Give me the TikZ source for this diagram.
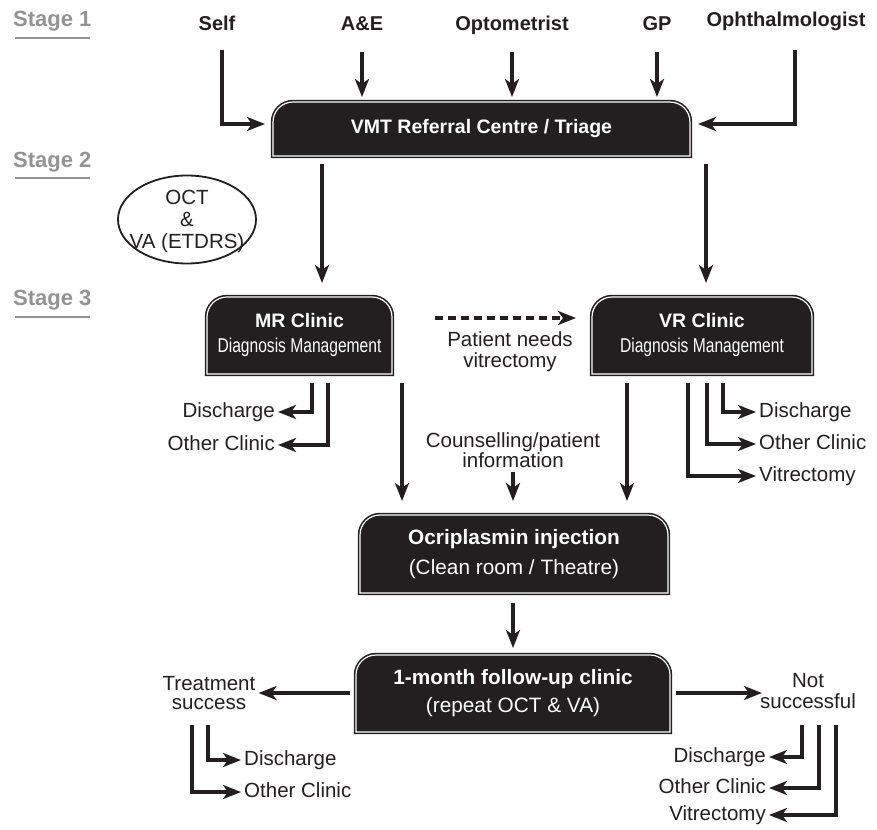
\documentclass[tikz,border=0pt]{standalone}
\usepackage{fontspec}
\setmainfont{Liberation Sans}
\newfontfamily\condfont[FakeStretch=0.78]{Liberation Sans}
\usetikzlibrary{arrows.meta,calc,backgrounds}
\definecolor{ink}{HTML}{231F20}
\definecolor{stagegray}{HTML}{939393}
\newcommand\fsz[2]{\fontsize{#1}{#2}\selectfont}
\newcommand\roundtop[1]{%
  \path[blkshape] (#1.south west) -- ($(#1.north west)+(0,20)$)
    arc[start angle=180,end angle=90,radius=20pt]
    -- ($(#1.north east)+(-20,0)$)
    arc[start angle=90,end angle=0,radius=20pt]
    -- (#1.south east) -- cycle;}
\begin{document}
\begin{tikzpicture}[x=1pt,y=-1pt,
  lbl/.style={font=\fsz{20.5}{21}, inner sep=3pt, text=ink, text height=15pt, text depth=4.5pt},
  lbl2/.style={font=\fsz{20.5}{20.5}, inner sep=3pt, text=ink, align=center},
  src/.style={font=\bfseries\fsz{20}{20}, inner sep=0pt, text height=14pt, text depth=4pt, text=ink},
  stagelbl/.style={font=\bfseries\fsz{22}{22}, text=stagegray, inner sep=0pt, anchor=west},
  stageline/.style={draw=stagegray, line width=1.6pt},
  blk/.style={rectangle, inner sep=0pt, outer sep=0pt, text=white, align=center},
  blkshape/.style={fill=ink, draw=ink, line width=1.6pt, double=white, double distance=1.2pt},
  arr/.style={draw=ink, line width=4pt, -{Stealth[length=18pt,width=14pt,inset=5pt]}, line join=miter},
  dasharr/.style={arr, dash pattern=on 8pt off 5pt},
]
\useasboundingbox (0,0) rectangle (877,829);

% stage labels
\node[stagelbl] (st1) at (13,21) {Stage 1};
\node[stagelbl] (st2) at (13,162) {Stage 2};
\node[stagelbl] (st3) at (13,300) {Stage 3};
\draw[stageline] ($(st1.west)+(2,17)$) -- ($(st1.east)+(-2,17)$);
\draw[stageline] ($(st2.west)+(2,16)$) -- ($(st2.east)+(-2,16)$);
\draw[stageline] ($(st3.west)+(2,17)$) -- ($(st3.east)+(-2,17)$);

% sources
\node[src] (self) at (217,26) {Self};
\node[src] (ae) at (362,26) {A\&E};
\node[src] (opt) at (512,26) {Optometrist};
\node[src] (gp) at (657,26) {GP};
\node[src] (oph) at (786,22) {Ophthalmologist};

% boxes
\node[blk, minimum width=417pt, minimum height=54pt, font=\bfseries\fsz{19.5}{24}] (vmt) at (481.5,129) {VMT Referral Centre / Triage};
\node[blk, minimum width=185pt, minimum height=77pt, font=\fsz{19.5}{25}] (mr) at (299.5,335.5)
  {{\bfseries MR Clinic}\\{\condfont\fsz{20}{25}Diagnosis Management}};
\node[blk, minimum width=220pt, minimum height=77pt, font=\fsz{19.5}{25}] (vr) at (702,335.5)
  {{\bfseries VR Clinic}\\{\condfont\fsz{20}{25}Diagnosis Management}};
\node[blk, minimum width=308pt, minimum height=78pt, font=\fsz{20.8}{30}] (ocr) at (514,554)
  {{\bfseries Ocriplasmin injection}\\(Clean room / Theatre)};
\node[blk, minimum width=314pt, minimum height=77pt, font=\fsz{20.8}{28}] (fu) at (513,693.5)
  {{\bfseries 1-month follow-up clinic}\\(repeat OCT \& VA)};

\begin{scope}[on background layer]
  \roundtop{vmt}
  \roundtop{mr}
  \roundtop{vr}
  \roundtop{ocr}
  \roundtop{fu}
\end{scope}

% ellipse
\node[inner sep=0pt, align=center, text=ink, font=\fsz{20.5}{22}] (oct) at (187,221.5) {OCT\\\&\\VA (ETDRS)};
\draw[ink, line width=1.8pt] ($(oct.center)+(0,-2)$) ellipse [x radius=69pt, y radius=44pt];

% labels
\node[lbl2, font=\fsz{20.5}{21}] (pnv) at (510,352) {Patient needs\\vitrectomy};
\node[lbl, anchor=east] (dis1) at (278,412) {Discharge};
\node[lbl, anchor=east] (oth1) at (278,445) {Other Clinic};
\node[lbl, anchor=west] (dis2) at (756,412) {Discharge};
\node[lbl, anchor=west] (oth2) at (756,444) {Other Clinic};
\node[lbl, anchor=west] (vit2) at (756,476) {Vitrectomy};
\node[lbl2] (couns) at (513,450) {Counselling/patient\\information};
\node[lbl2, font=\fsz{20.5}{19.5}] (treat) at (209,693) {Treatment\\success};
\node[lbl2, font=\fsz{20.5}{21}] (ns) at (808,691) {Not\\successful};
\node[lbl, anchor=west] (dis3) at (241,760) {Discharge};
\node[lbl, anchor=west] (oth3) at (241,792) {Other Clinic};
\node[lbl, anchor=east] (dis4) at (769,757) {Discharge};
\node[lbl, anchor=east] (oth4) at (769,788) {Other Clinic};
\node[lbl, anchor=east] (vit4) at (769,815) {Vitrectomy};

% arrows stage 1
\draw[arr] ($(self.south)+(5,15)$) |- ($(vmt.west)+(-8,-5)$);
\draw[arr] ($(ae.south)+(0,17)$) -- ($(ae.south |- vmt.north)+(0,-5)$);
\draw[arr] ($(opt.south)+(0,17)$) -- ($(opt.south |- vmt.north)+(0,-5)$);
\draw[arr] ($(gp.south)+(0,17)$) -- ($(gp.south |- vmt.north)+(0,-5)$);
\draw[arr] ($(oph.south)+(9,19)$) |- ($(vmt.east)+(8,-5)$);

% stage 2
\draw[arr] ($(vmt.south -| mr.north)+(22.5,8)$) -- ($(mr.north)+(22.5,-14)$);
\draw[arr] ($(vmt.south -| vr.north)+(4,8)$) -- ($(vr.north)+(4,-14)$);

% stage 3
\draw[dasharr] ($(mr.east)+(43,-17.5)$) -- ($(vr.west)+(-16,-17.5)$);
\draw[arr] ($(mr.south)+(12.5,9)$) |- (dis1.east);
\draw[arr] ($(mr.south)+(28.5,9)$) |- (oth1.east);
\draw[arr] ($(mr.south)+(102.5,9)$) -- ($(ocr.north)+(-112,-14)$);
\draw[arr] ($(vr.south)+(21,9)$) |- (dis2.west);
\draw[arr] ($(vr.south)+(5,9)$) |- (oth2.west);
\draw[arr] ($(vr.south)+(-14,9)$) |- (vit2.west);
\draw[arr] ($(vr.south)+(-75,9)$) -- ($(ocr.north)+(113,-14)$);
\draw[arr] ($(couns.south)+(0,1)$) -- ($(ocr.north)+(-1,-14)$);
\draw[arr] ($(ocr.south)+(-1,10)$) -- ($(fu.north)+(0,-7)$);
\draw[arr] ($(fu.west)+(-6,-0.5)$) -- (treat.east);
\draw[arr] ($(fu.east)+(6,-0.5)$) -- ($(ns.west)+(5,2)$);
\draw[arr] ($(treat.center)+(-1,32)$) |- (dis3.west);
\draw[arr] ($(treat.center)+(-17,32)$) |- (oth3.west);
\draw[arr] ($(ns.center)+(-6,34)$) |- (dis4.east);
\draw[arr] ($(ns.center)+(11,34)$) |- (oth4.east);
\draw[arr] ($(ns.center)+(28,34)$) |- (vit4.east);
\end{tikzpicture}
\end{document}
